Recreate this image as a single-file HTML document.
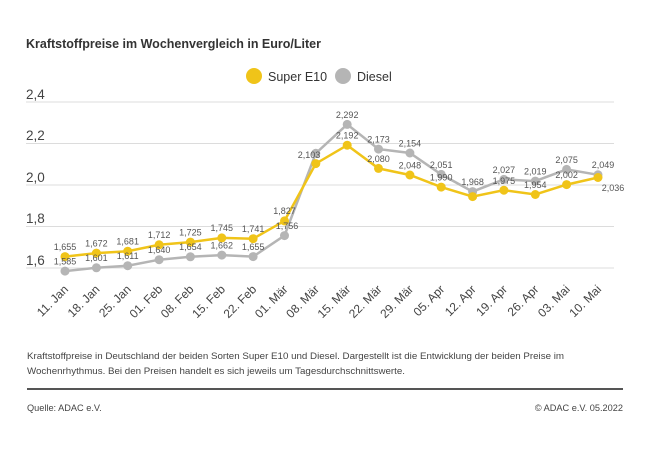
<!DOCTYPE html>
<html><head><meta charset="utf-8"><style>
body{margin:0;background:#fff;width:650px;height:456px;overflow:hidden;font-family:"Liberation Sans",sans-serif}
svg{position:absolute;left:0;top:0}
</style></head><body>
<svg width="650" height="456" viewBox="0 0 650 456" font-family="Liberation Sans, sans-serif">
<text x="26" y="48" font-size="12.5" font-weight="bold" fill="#333">Kraftstoffpreise im Wochenvergleich in Euro/Liter</text>
<circle cx="254" cy="76" r="8" fill="#f0c419"/>
<text x="268" y="81" font-size="12.5" fill="#333">Super E10</text>
<circle cx="343" cy="76" r="8" fill="#b5b5b5"/>
<text x="357" y="81" font-size="12.5" fill="#333">Diesel</text>
<g stroke="#dcdcdc" stroke-width="1">
<line x1="26" y1="102" x2="614" y2="102"/><line x1="26" y1="143.5" x2="614" y2="143.5"/><line x1="26" y1="185" x2="614" y2="185"/><line x1="26" y1="226.5" x2="614" y2="226.5"/><line x1="26" y1="268" x2="614" y2="268"/>
</g>
<g font-size="13.5" fill="#444">
<text x="26" y="99">2,4</text><text x="26" y="140">2,2</text><text x="26" y="182">2,0</text><text x="26" y="223">1,8</text><text x="26" y="265">1,6</text>
</g>
<polyline fill="none" stroke="#b5b5b5" stroke-width="2.5" points="65,271.1 96.4,267.8 127.7,265.7 159.1,259.7 190.4,256.8 221.8,255.1 253.1,256.6 284.5,235.6 315.8,153.3 347.2,124.4 378.5,149.1 409.9,153 441.2,174.4 472.6,191.6 503.9,179.4 535.3,181.1 566.6,169.4 598,174.8"/>
<g fill="#b5b5b5">
<circle cx="65" cy="271.1" r="4.5"/><circle cx="96.4" cy="267.8" r="4.5"/><circle cx="127.7" cy="265.7" r="4.5"/><circle cx="159.1" cy="259.7" r="4.5"/><circle cx="190.4" cy="256.8" r="4.5"/><circle cx="221.8" cy="255.1" r="4.5"/><circle cx="253.1" cy="256.6" r="4.5"/><circle cx="284.5" cy="235.6" r="4.5"/><circle cx="315.8" cy="153.3" r="4.5"/><circle cx="347.2" cy="124.4" r="4.5"/><circle cx="378.5" cy="149.1" r="4.5"/><circle cx="409.9" cy="153" r="4.5"/><circle cx="441.2" cy="174.4" r="4.5"/><circle cx="472.6" cy="191.6" r="4.5"/><circle cx="503.9" cy="179.4" r="4.5"/><circle cx="535.3" cy="181.1" r="4.5"/><circle cx="566.6" cy="169.4" r="4.5"/><circle cx="598" cy="174.8" r="4.5"/>
</g>
<polyline fill="none" stroke="#f0c419" stroke-width="2.5" points="65,256.6 96.4,253.1 127.7,251.2 159.1,244.8 190.4,242.1 221.8,237.9 253.1,238.7 284.5,220.9 315.8,163.6 347.2,145.2 378.5,168.4 409.9,175 441.2,187.1 472.6,196.6 503.9,190.2 535.3,194.5 566.6,184.6 598,177.5"/>
<g fill="#f0c419">
<circle cx="65" cy="256.6" r="4.5"/><circle cx="96.4" cy="253.1" r="4.5"/><circle cx="127.7" cy="251.2" r="4.5"/><circle cx="159.1" cy="244.8" r="4.5"/><circle cx="190.4" cy="242.1" r="4.5"/><circle cx="221.8" cy="237.9" r="4.5"/><circle cx="253.1" cy="238.7" r="4.5"/><circle cx="284.5" cy="220.9" r="4.5"/><circle cx="315.8" cy="163.6" r="4.5"/><circle cx="347.2" cy="145.2" r="4.5"/><circle cx="378.5" cy="168.4" r="4.5"/><circle cx="409.9" cy="175" r="4.5"/><circle cx="441.2" cy="187.1" r="4.5"/><circle cx="472.6" cy="196.6" r="4.5"/><circle cx="503.9" cy="190.2" r="4.5"/><circle cx="535.3" cy="194.5" r="4.5"/><circle cx="566.6" cy="184.6" r="4.5"/><circle cx="598" cy="177.5" r="4.5"/>
</g>
<g font-size="9" fill="#555" text-anchor="middle">
<text x="65" y="250">1,655</text><text x="96.4" y="246.5">1,672</text><text x="127.7" y="244.5">1,681</text><text x="159.1" y="238">1,712</text><text x="190.4" y="235.5">1,725</text><text x="221.8" y="231">1,745</text><text x="253.1" y="232">1,741</text><text x="284.5" y="214">1,827</text><text x="309" y="158">2,103</text><text x="347.2" y="138.5">2,192</text><text x="378.5" y="162">2,080</text><text x="409.9" y="168.5">2,048</text><text x="441.2" y="180.5">1,990</text><text x="503.9" y="184">1,975</text><text x="535.3" y="188">1,954</text><text x="566.6" y="178">2,002</text><text x="613" y="191">2,036</text>
<text x="65" y="264.5">1,585</text><text x="96.4" y="261">1,601</text><text x="127.7" y="259">1,611</text><text x="159.1" y="253">1,640</text><text x="190.4" y="250">1,654</text><text x="221.8" y="248.5">1,662</text><text x="253.1" y="250">1,655</text><text x="287" y="229">1,756</text><text x="347.2" y="118">2,292</text><text x="378.5" y="142.5">2,173</text><text x="409.9" y="146.5">2,154</text><text x="441.2" y="168">2,051</text><text x="472.6" y="185">1,968</text><text x="503.9" y="173">2,027</text><text x="535.3" y="174.5">2,019</text><text x="566.6" y="163">2,075</text><text x="603" y="168">2,049</text>
</g>
<g font-size="12" fill="#444" text-anchor="end">
<text transform="translate(69,290) rotate(-45)">11. Jan</text>
<text transform="translate(100.4,290) rotate(-45)">18. Jan</text>
<text transform="translate(131.7,290) rotate(-45)">25. Jan</text>
<text transform="translate(163.1,290) rotate(-45)">01. Feb</text>
<text transform="translate(194.4,290) rotate(-45)">08. Feb</text>
<text transform="translate(225.8,290) rotate(-45)">15. Feb</text>
<text transform="translate(257.1,290) rotate(-45)">22. Feb</text>
<text transform="translate(288.5,290) rotate(-45)">01. Mär</text>
<text transform="translate(319.8,290) rotate(-45)">08. Mär</text>
<text transform="translate(351.2,290) rotate(-45)">15. Mär</text>
<text transform="translate(382.5,290) rotate(-45)">22. Mär</text>
<text transform="translate(413.9,290) rotate(-45)">29. Mär</text>
<text transform="translate(445.2,290) rotate(-45)">05. Apr</text>
<text transform="translate(476.6,290) rotate(-45)">12. Apr</text>
<text transform="translate(507.9,290) rotate(-45)">19. Apr</text>
<text transform="translate(539.3,290) rotate(-45)">26. Apr</text>
<text transform="translate(570.6,290) rotate(-45)">03. Mai</text>
<text transform="translate(602,290) rotate(-45)">10. Mai</text>
</g>
<g font-size="9.2" fill="#444">
<text x="27" y="359" textLength="537" lengthAdjust="spacingAndGlyphs">Kraftstoffpreise in Deutschland der beiden Sorten Super E10 und Diesel. Dargestellt ist die Entwicklung der beiden Preise im</text>
<text x="27" y="374" textLength="378" lengthAdjust="spacingAndGlyphs">Wochenrhythmus. Bei den Preisen handelt es sich jeweils um Tagesdurchschnittswerte.</text>
<text x="27" y="411">Quelle: ADAC e.V.</text>
<text x="623" y="411" text-anchor="end">© ADAC e.V. 05.2022</text>
</g>
<rect x="27" y="388" width="596" height="2" fill="#555"/>
</svg>
</body></html>
